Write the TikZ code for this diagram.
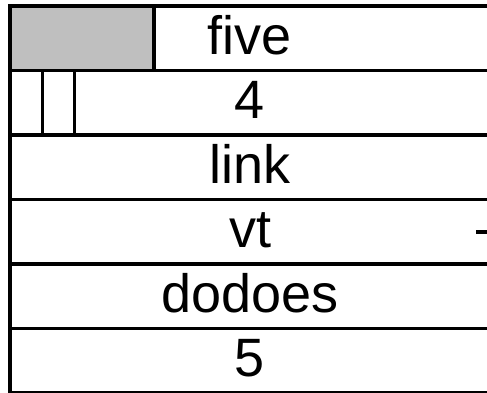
\documentclass[tikz,border=0pt]{standalone}
\usepackage{fontspec}
\setmainfont{Liberation Sans}
\begin{document}
\begin{tikzpicture}[x=1pt,y=-1pt,line join=miter,
	cell/.style={draw,line width=3.5pt,minimum width=480pt,minimum height=64.5pt,
		inner sep=0pt,outer sep=0pt,text height=40pt,text depth=8.5pt,
		font=\fontsize{54}{64}\selectfont}]
	\useasboundingbox (0,0) rectangle (487,392);
	
	% the six fields of the record, top to bottom
	\foreach \lbl [count=\i] in {five,4,link,vt,dodoes,5}
		\node[cell] (f\i) at (250,{6+64.5*(\i-0.5)}) {\lbl};
	
	% grey slot in the first field
	\filldraw[fill=black!25,line width=3.5pt] (f1.north west) rectangle (154,70.5);
	
	% small slots in the second field
	\draw[line width=3pt] (42,70.5)--(42,135) (74,70.5)--(74,135);
	
	\draw[line width=3.5pt] ([xshift=-14pt]f4.east)--(f4.east);
\end{tikzpicture}
\end{document}
